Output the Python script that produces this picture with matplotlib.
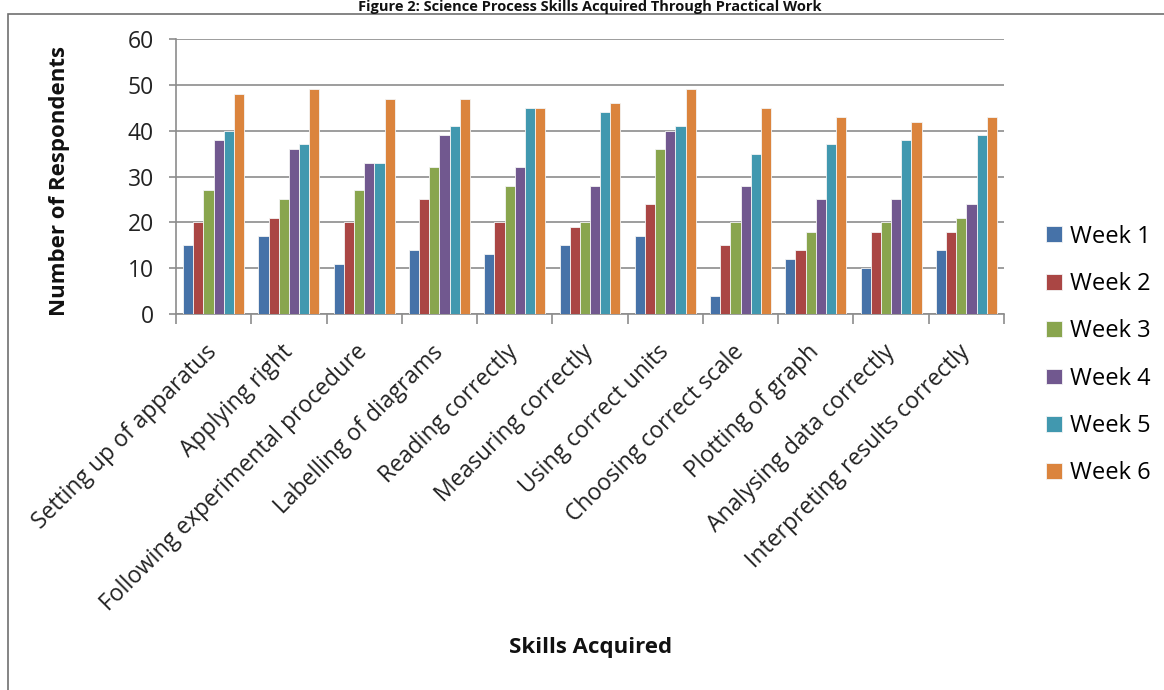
import matplotlib
matplotlib.use("Agg")
import matplotlib.pyplot as plt
import numpy as np
from matplotlib.patches import Rectangle

categories = ["Setting up of apparatus", "Applying right", "Following experimental procedure",
              "Labelling of diagrams", "Reading correctly", "Measuring correctly",
              "Using correct units", "Choosing correct scale", "Plotting of graph",
              "Analysing data correctly", "Interpreting results correctly"]
series_names = ["Week 1", "Week 2", "Week 3", "Week 4", "Week 5", "Week 6"]
week1 = [15, 17, 11, 14, 13, 15, 17, 4, 12, 10, 14]
week2 = [20, 21, 20, 25, 20, 19, 24, 15, 14, 18, 18]
week3 = [27, 25, 27, 32, 28, 20, 36, 20, 18, 20, 21]
week4 = [38, 36, 33, 39, 32, 28, 40, 28, 25, 25, 24]
week5 = [40, 37, 33, 41, 45, 44, 41, 35, 37, 38, 39]
week6 = [48, 49, 47, 47, 45, 46, 49, 45, 43, 42, 43]
colors = ["#4672A8", "#AA4644", "#89A54E", "#71588F", "#4198AF", "#DB843D"]

plt.rcParams['font.family'] = ['Open Sans', 'DejaVu Sans']

W, H = 1164, 690
fig = plt.figure(figsize=(W / 100, H / 100), dpi=100)
ax = fig.add_axes([176 / W, 1 - 314 / H, (1004 - 176) / W, (314 - 39) / H])

data = [week1, week2, week3, week4, week5, week6]
x = np.arange(len(categories))
w = 0.81 / 6
for i, (vals, name, c) in enumerate(zip(data, series_names, colors)):
    ax.bar(x - 0.405 + w * (i + 0.5), vals, width=w, color=c, label=name,
           edgecolor="#f4f4f4", linewidth=0.6, zorder=3)

ax.set_xlim(-0.5, len(categories) - 0.5)
ax.set_ylim(0, 60)
ax.set_yticks(range(0, 61, 10))
ax.yaxis.grid(True, color="#8c8c8c", linewidth=1.2, zorder=0)
ax.set_axisbelow(True)
for s in ["top", "right"]:
    ax.spines[s].set_visible(False)
for s in ["left", "bottom"]:
    ax.spines[s].set_color("#8c8c8c")
    ax.spines[s].set_linewidth(1.2)
ax.tick_params(axis="y", labelsize=16.5, color="#8c8c8c", length=5, width=1.2, pad=11,
               labelcolor="#222222")
ax.set_xticks(x)
ax.set_xticklabels(categories, rotation=45, ha="right", va="center", rotation_mode="anchor",
                   fontsize=16.5, color="#222222")
ax.tick_params(axis="x", length=0, pad=25)
ax.set_xticks(np.arange(-0.5, len(categories)), minor=True)
ax.tick_params(axis="x", which="minor", length=7, color="#8c8c8c", width=1.2)

fig.text(60 / W, 1 - 181 / H, "Number of Respondents", fontsize=16, fontweight="bold",
         rotation=90, ha="center", va="center", color="#111111")
fig.text(591 / W, 1 - 648 / H, "Skills Acquired", fontsize=16, fontweight="bold",
         ha="center", va="center", color="#111111")
fig.text(590 / W, 1 - 0.5 / H, "Figure 2: Science Process Skills Acquired Through Practical Work",
         fontsize=10.5, fontweight="bold", ha="center", va="top", color="#111111")

fig.legend(loc="center left", bbox_to_anchor=(1025 / W, 1 - 355 / H), frameon=False,
           fontsize=17, handlelength=0.65, handleheight=0.65, handletextpad=0.35,
           labelspacing=0.99)

fig.patches.append(Rectangle((8 / W, -0.1), 1.2, 1 - 14 / H + 0.1, transform=fig.transFigure,
                             fill=False, edgecolor="#707070", linewidth=1.2))

fig.savefig("out.png", dpi=100)
